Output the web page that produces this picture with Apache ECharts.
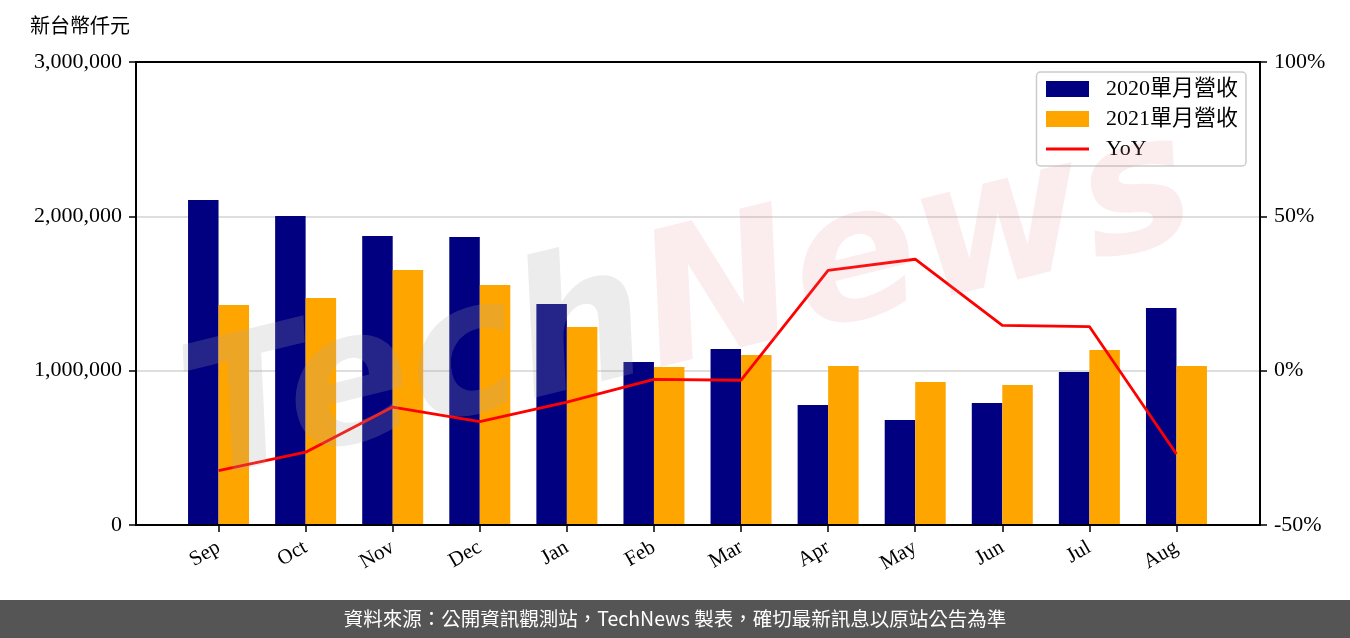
<!DOCTYPE html>
<html><head><meta charset="utf-8">
<script src="https://cdn.jsdelivr.net/npm/echarts@6/dist/echarts.min.js"></script>
<style>html,body{margin:0;padding:0;background:#fff}#c{width:1350px;height:638px}</style>
</head><body><div id="c"></div>
<script>
const categories = ['Sep','Oct','Nov','Dec','Jan','Feb','Mar','Apr','May','Jun','Jul','Aug'];
const rev2020 = [2106000,2002000,1873000,1866000,1432000,1056000,1140000,778000,680000,790000,991000,1406000];
const rev2021 = [1425000,1471000,1652000,1555000,1283000,1024000,1102000,1030000,927000,907000,1134000,1030000];
const yoy = [-32.4,-26.4,-11.8,-16.5,-10.2,-2.8,-3.1,32.5,36.1,14.7,14.3,-27.0];
const leftTicks = [0,1000000,2000000,3000000];
const rightTicks = [-50,0,50,100];

const serif = '"Liberation Serif","Noto Sans CJK TC",serif';
const chart = echarts.init(document.getElementById('c'));
chart.setOption({
  animation:false,
  grid:[
    {left:136,right:90,top:62,bottom:113,show:true,borderColor:'#000',borderWidth:2,backgroundColor:'rgba(0,0,0,0)',z:3},
    {left:175,width:1045,top:62,bottom:113}
  ],
  legend:{
    orient:'vertical', right:104, top:72,
    data:[
      {name:'2020單月營收',icon:'rect'},
      {name:'2021單月營收',icon:'rect'},
      {name:'YoY',itemStyle:{opacity:0},lineStyle:{width:3}}
    ],
    itemWidth:43, itemHeight:16, itemGap:6,
    padding:[5,8,5,8],
    borderColor:'#cccccc', borderWidth:1.5, borderRadius:4,
    backgroundColor:'rgba(255,255,255,0.8)',
    textStyle:{fontFamily:serif,fontSize:22,lineHeight:24,color:'#000',padding:[0,0,0,12]}
  },
  xAxis:[
    {type:'value',gridIndex:0,min:0,max:1,show:false},
    {type:'category',gridIndex:1,data:categories,
     axisLine:{show:false},
     axisTick:{show:true,alignWithLabel:true,length:7,lineStyle:{color:'#000',width:1.5}},
     axisLabel:{rotate:30,fontFamily:serif,fontSize:21,color:'#000',margin:21}}
  ],
  yAxis:[
    {type:'value',gridIndex:0,position:'left',min:leftTicks[0],max:leftTicks[3],interval:1000000,
     axisLine:{show:true,lineStyle:{color:'#000',width:2}},
     axisTick:{show:true,length:7,lineStyle:{color:'#000',width:1.5}},
     axisLabel:{fontFamily:serif,fontSize:22,color:'#000',margin:14,formatter:v=>v.toLocaleString('en-US')},
     splitLine:{show:true,showMinLine:false,showMaxLine:false,lineStyle:{color:'#d3d3d3',width:1.5}}},
    {type:'value',gridIndex:0,position:'right',min:rightTicks[0],max:rightTicks[3],interval:50,
     axisLine:{show:true,lineStyle:{color:'#000',width:2}},
     axisTick:{show:true,length:7,lineStyle:{color:'#000',width:1.5}},
     axisLabel:{fontFamily:serif,fontSize:22,color:'#000',margin:14,formatter:v=>v+'%'},
     splitLine:{show:false}},
    {type:'value',gridIndex:1,min:leftTicks[0],max:leftTicks[3],show:false,splitLine:{show:false}},
    {type:'value',gridIndex:1,position:'right',min:rightTicks[0],max:rightTicks[3],show:false,splitLine:{show:false}}
  ],
  series:[
    {name:'2020單月營收',type:'bar',xAxisIndex:1,yAxisIndex:2,data:rev2020,barWidth:30.5,barGap:'0%',itemStyle:{color:'#000080'}},
    {name:'2021單月營收',type:'bar',xAxisIndex:1,yAxisIndex:2,data:rev2021,barWidth:30.5,barGap:'0%',itemStyle:{color:'#ffa500'}},
    {name:'YoY',type:'line',xAxisIndex:1,yAxisIndex:3,data:yoy,symbol:'none',showSymbol:false,lineStyle:{color:'#ff0000',width:2.8},itemStyle:{color:'#ff0000'},z:5}
  ],
  graphic:[
    {type:'text',left:30,top:15,style:{text:'新台幣仟元',font:'20px "Noto Sans CJK TC", serif',fill:'#000'}},
    {type:'text',x:690,y:310,rotation:0.24,z:100,silent:true,
     style:{text:'{a|Tech}{b|News}',align:'center',verticalAlign:'middle',
       rich:{a:{font:'italic bold 185px "DejaVu Sans"',fill:'rgba(170,170,170,0.22)'},
             b:{font:'italic bold 185px "DejaVu Sans"',fill:'rgba(225,120,130,0.14)'}}}},
    {type:'rect',shape:{x:0,y:600,width:1350,height:38},style:{fill:'#555555'},z:50},
    {type:'text',x:675,y:619,z:51,style:{text:'資料來源：公開資訊觀測站，TechNews 製表，確切最新訊息以原站公告為準',align:'center',verticalAlign:'middle',font:'19.5px "Noto Sans CJK TC", sans-serif',fill:'#ffffff'}}
  ]
});
</script></body></html>
